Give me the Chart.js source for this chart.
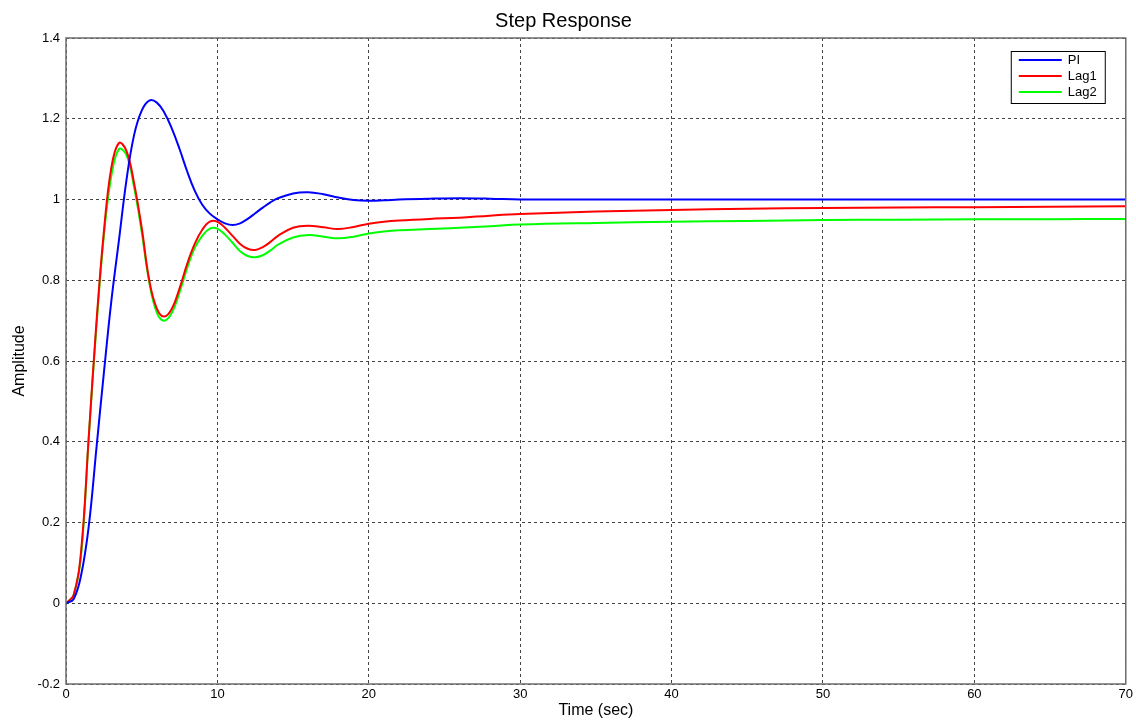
<!DOCTYPE html>
<html>
<head>
<meta charset="utf-8">
<script src="https://cdn.jsdelivr.net/npm/chart.js@4/dist/chart.umd.min.js"></script>
<style>
  html, body { margin: 0; padding: 0; background: #fff; }
  #wrap { width: 1136px; height: 722px; }
</style>
</head>
<body>
<div id="wrap"><canvas id="myChart" width="1136" height="722"></canvas></div>
<script>
// time axis (sec)
var timeSec = [0, 0.5, 1, 1.5, 2, 2.5, 3, 3.5, 4, 4.5, 5, 5.5, 6, 6.5, 7, 7.5, 8, 8.5, 9, 9.5,
    10, 10.5, 11, 11.5, 12, 12.5, 13, 13.5, 14, 15, 16, 17, 18, 19, 20, 21, 22, 24, 26, 28,
    30, 35, 40, 45, 50, 55, 60, 65, 70];

var piResp = [0, 0.01, 0.07, 0.19, 0.38, 0.57, 0.75, 0.9, 1.05, 1.16, 1.22, 1.245, 1.24, 1.215, 1.175, 1.125, 1.07, 1.022, 0.987, 0.965,
    0.951, 0.941, 0.937, 0.941, 0.952, 0.966, 0.98, 0.993, 1.003, 1.015, 1.018, 1.013, 1.005, 0.999, 0.997, 0.998, 1.0, 1.002, 1.003, 1.002,
    1.0, 1.0, 1.0, 1.0, 1.0, 1.0, 1.0, 1.0, 1.0];

var lag1Resp = [0, 0.02, 0.13, 0.41, 0.69, 0.92, 1.08, 1.14, 1.12, 1.04, 0.93, 0.80, 0.73, 0.71, 0.73, 0.78, 0.84, 0.89, 0.925, 0.945,
    0.945, 0.93, 0.91, 0.89, 0.878, 0.875, 0.882, 0.895, 0.91, 0.93, 0.935, 0.931, 0.927, 0.932, 0.94, 0.945, 0.948, 0.952, 0.955, 0.96,
    0.964, 0.97, 0.974, 0.977, 0.979, 0.98, 0.981, 0.982, 0.983];

var lag2Resp = [0, 0.02, 0.12, 0.41, 0.68, 0.91, 1.06, 1.125, 1.11, 1.03, 0.92, 0.795, 0.72, 0.70, 0.72, 0.77, 0.83, 0.88, 0.91, 0.928,
    0.928, 0.913, 0.893, 0.872, 0.86, 0.857, 0.862, 0.874, 0.888, 0.906, 0.912, 0.908, 0.904, 0.908, 0.916, 0.921, 0.924, 0.927, 0.93, 0.934,
    0.938, 0.942, 0.945, 0.947, 0.949, 0.95, 0.951, 0.951, 0.952];

var seriesNames = ['PI', 'Lag1', 'Lag2'];
var seriesColors = ['#0000ff', '#ff0000', '#00ff00'];
var seriesValues = [piResp, lag1Resp, lag2Resp];

function toPoints(values) {
    return values.map(function (v, i) { return { x: timeSec[i], y: v }; });
}

// box around the plot area + legend inside top right, matlab style
var boxPlugin = {
    id: 'boxPlugin',
    afterDatasetsDraw: function (chart) {
        var ctx = chart.ctx;
        var a = chart.chartArea;
        ctx.save();
        ctx.strokeStyle = '#6e6e6e';
        ctx.lineWidth = 1.5;
        ctx.setLineDash([]);
        ctx.strokeRect(a.left, a.top, a.right - a.left, a.bottom - a.top);

        // legend
        var lx = a.right - 115, ly = a.top + 13, lw = 94, lh = 52;
        ctx.fillStyle = '#fff';
        ctx.fillRect(lx, ly, lw, lh);
        ctx.strokeStyle = '#000';
        ctx.lineWidth = 1;
        ctx.strokeRect(lx + 0.5, ly + 0.5, lw, lh);
        ctx.font = '13px "Liberation Sans", Arial, sans-serif';
        ctx.textBaseline = 'middle';
        ctx.textAlign = 'left';
        chart.data.datasets.forEach(function (ds, i) {
            var y = ly + 9 + i * 16;
            ctx.strokeStyle = ds.borderColor;
            ctx.lineWidth = 2;
            ctx.beginPath();
            ctx.moveTo(lx + 8, y);
            ctx.lineTo(lx + 51, y);
            ctx.stroke();
            ctx.fillStyle = '#000';
            ctx.fillText(ds.label, lx + 57, y);
        });
        ctx.restore();
    }
};

var ctx = document.getElementById('myChart').getContext('2d');
var myChart = new Chart(ctx, {
    type: 'line',
    data: {
        datasets: seriesNames.map(function (name, i) {
            return {
                label: name,
                data: toPoints(seriesValues[i]),
                borderColor: seriesColors[i],
                backgroundColor: seriesColors[i],
                borderWidth: 2,
                pointRadius: 0,
                tension: 0.4,
                fill: false
            };
        })
    },
    options: {
        responsive: false,
        animation: false,
        layout: { padding: { left: 0, right: 9, top: 0, bottom: 0 } },
        plugins: {
            legend: { display: false },
            tooltip: { enabled: false },
            title: {
                display: true,
                text: 'Step Response',
                color: '#000',
                font: { size: 20, family: '"Liberation Sans", Arial, sans-serif', weight: 'normal' },
                padding: { top: 9, bottom: 5 }
            }
        },
        scales: {
            x: {
                type: 'linear',
                min: 0,
                max: 70,
                ticks: {
                    stepSize: 10,
                    color: '#000',
                    padding: 3,
                    font: { size: 13, family: '"Liberation Sans", Arial, sans-serif' }
                },
                grid: {
                    color: '#444',
                    lineWidth: 1,
                    drawTicks: false
                },
                border: { display: false, dash: [3, 3] },
                title: {
                    display: true,
                    text: 'Time (sec)',
                    color: '#000',
                    font: { size: 16, family: '"Liberation Sans", Arial, sans-serif' },
                    padding: { top: 0, bottom: 2 }
                },
                afterFit: function (scale) { scale.height = 38; }
            },
            y: {
                min: -0.2,
                max: 1.4,
                ticks: {
                    stepSize: 0.2,
                    color: '#000',
                    padding: 6,
                    font: { size: 13, family: '"Liberation Sans", Arial, sans-serif' },
                    callback: function (v) { return String(+v.toFixed(1)); }
                },
                grid: {
                    color: '#444',
                    lineWidth: 1,
                    drawTicks: false
                },
                border: { display: false, dash: [3, 3] },
                title: {
                    display: true,
                    text: 'Amplitude',
                    color: '#000',
                    font: { size: 16, family: '"Liberation Sans", Arial, sans-serif' },
                    padding: { top: 10, bottom: 0 }
                },
                afterFit: function (scale) { scale.width = 66; }
            }
        }
    },
    plugins: [boxPlugin]
});
</script>
</body>
</html>
